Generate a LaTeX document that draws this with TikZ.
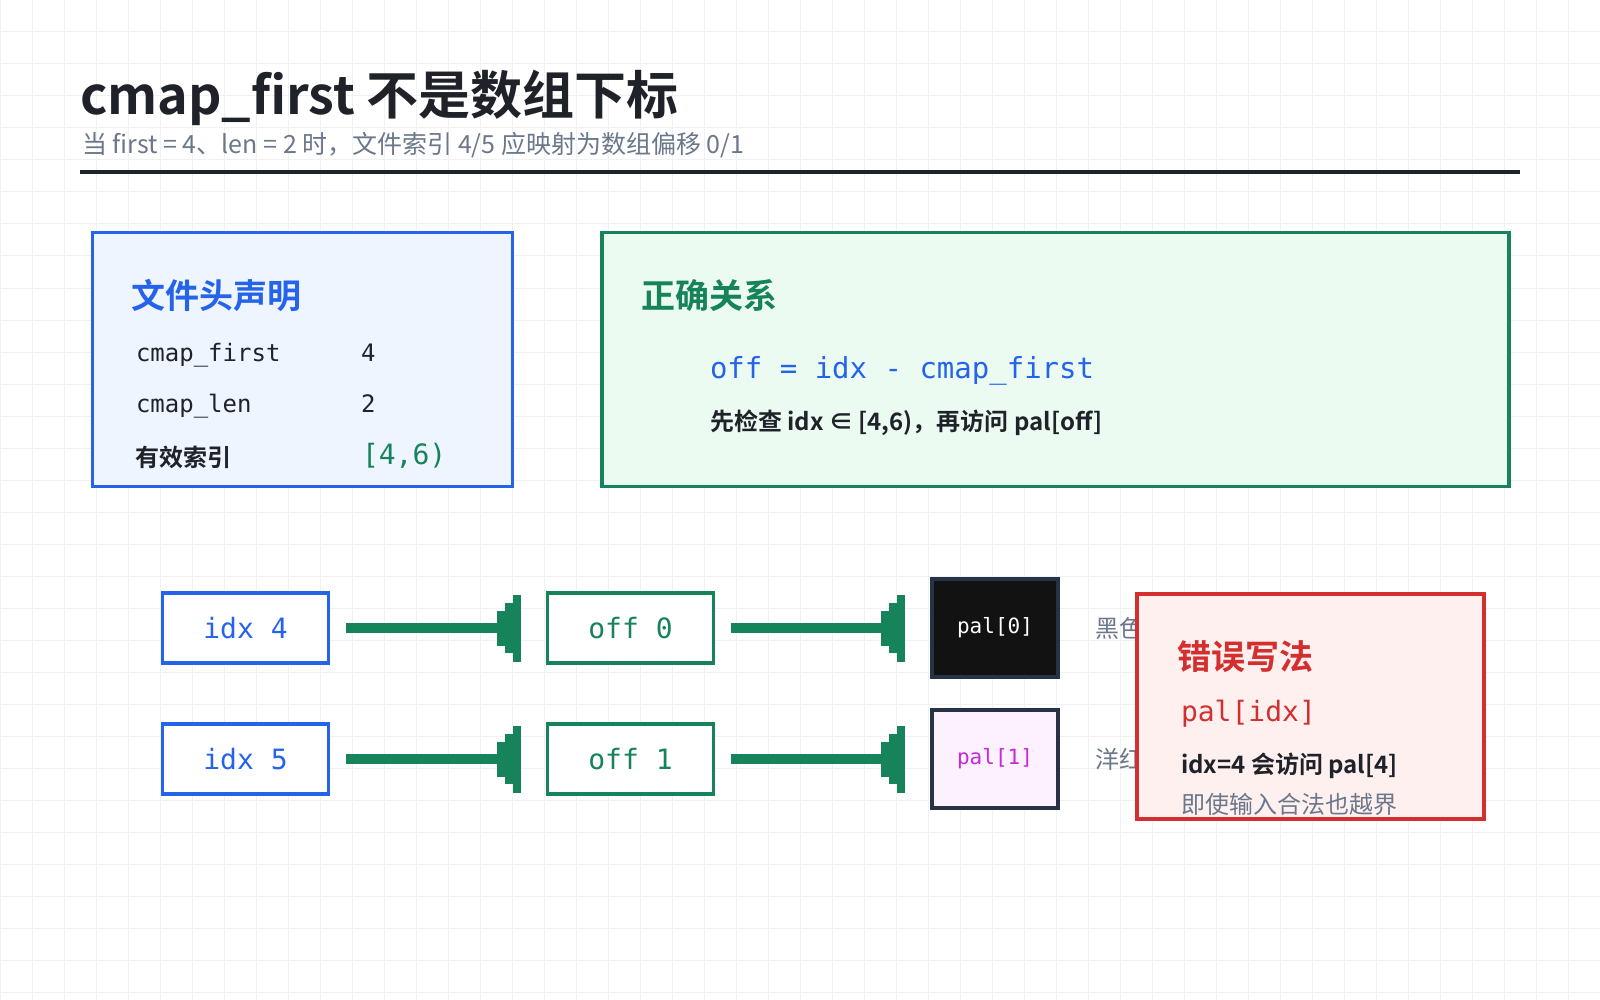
\documentclass[tikz,border=0pt]{standalone}
\usepackage{fontspec}
\setmainfont{Noto Sans CJK SC}[BoldFont={Noto Sans CJK SC Bold}]
\setmonofont{DejaVu Sans Mono}
\usepackage{tikz}
\usetikzlibrary{arrows.meta}

\definecolor{ink}{HTML}{1F2329}
\definecolor{muted}{HTML}{6B778A}
\definecolor{blueline}{HTML}{2563EB}
\definecolor{bluefill}{HTML}{EEF5FF}
\definecolor{greenline}{HTML}{16835A}
\definecolor{greenfill}{HTML}{EBFBF2}
\definecolor{redline}{HTML}{D32F2F}
\definecolor{redfill}{HTML}{FFF0F0}
\definecolor{slate}{HTML}{273244}
\definecolor{palblack}{HTML}{121212}
\definecolor{palpink}{HTML}{FDF1FF}
\definecolor{palmagenta}{HTML}{C42BD6}
\definecolor{gridc}{HTML}{F0F1F3}

\newcommand{\pxfont}[1]{\fontsize{#1pt}{#1pt}\selectfont}

\begin{document}
\begin{tikzpicture}[x=0.5pt,y=-0.5pt,
		grid_line/.style={draw=gridc,line width=0.5pt},
		txt_style/.style={inner sep=0pt,outer sep=0pt,anchor=base west},
		key_style/.style={txt_style,font=\ttfamily\pxfont{12},text=ink},
		panel_style/.style={rectangle,line width=1.6pt,inner sep=0pt,outer sep=0pt},
		idx_style/.style={rectangle,draw=blueline,fill=white,line width=1.6pt,minimum width=83pt,minimum height=35pt,inner sep=0pt,outer sep=0pt,font=\ttfamily\pxfont{14},text=blueline},
		off_style/.style={idx_style,draw=greenline,text=greenline},
		pal_style/.style={rectangle,draw=slate,line width=2pt,minimum width=63pt,minimum height=49pt,inner sep=0pt,outer sep=0pt,font=\ttfamily\pxfont{10.5}},
		note_style/.style={inner sep=0pt,outer sep=0pt,anchor=west,font=\pxfont{12},text=muted},
		edge_style/.style={draw=greenline,line width=5pt,shorten <=8.5pt,shorten >=13.5pt,
			-{Rectangle[length=4pt,width=17.5pt,sep=0pt,line width=0pt]Rectangle[length=4pt,width=25pt,sep=0pt,line width=0pt]Rectangle[length=4pt,width=33.5pt,sep=0pt,line width=0pt]}}]

		\useasboundingbox (0,0) rectangle (1600,1000);
		\fill[white] (0,0) rectangle (1600,1000);
		\foreach \gx in {0,32,...,1600} \draw[grid_line] (\gx,0) -- (\gx,1000);
		\foreach \gy in {0,32,...,992} \draw[grid_line] (0,\gy) -- (1600,\gy);

		% title
		\node[txt_style,font=\bfseries\pxfont{26},text=ink] (title) at (80,115) {cmap\_first 不是数组下标};
		\node[txt_style,font=\pxfont{12.5},text=muted] (subtitle) at (82,154) {当 first = 4、len = 2 时，文件索引 4/5 应映射为数组偏移 0/1};
		\draw[ink,line width=2pt] (80,172) -- (1520,172);

		% header panel
		\node[panel_style,draw=blueline,fill=bluefill,minimum width=210pt,minimum height=127pt] (hdr_box) at (302.5,359.5) {};
		\node[txt_style,font=\bfseries\pxfont{17},text=blueline] (hdr_title) at (131,308) {文件头声明};
		\node[key_style] (first_key) at (136,361) {cmap\_first};
		\node[key_style] (first_val) at (361,361) {4};
		\node[key_style] (len_key) at (136,412) {cmap\_len};
		\node[key_style] (len_val) at (361,412) {2};
		\node[txt_style,font=\bfseries\pxfont{12},text=ink] (range_key) at (135,466) {有效索引};
		\node[txt_style,font=\ttfamily\pxfont{14},text=greenline] (range_val) at (362,464) {[4,6)};

		% relation panel
		\node[panel_style,draw=greenline,fill=greenfill,minimum width=453.5pt,minimum height=127pt] (rel_box) at (1055.5,359.5) {};
		\node[txt_style,font=\bfseries\pxfont{17},text=greenline] (rel_title) at (641,308) {正确关系};
		\node[txt_style,font=\ttfamily\pxfont{14.5},text=blueline] (rel_formula) at (710,378) {off = idx - cmap\_first};
		\node[txt_style,font=\bfseries\pxfont{12},text=ink] (rel_check) at (710,430) {先检查 idx ∈ [4,6)，再访问 pal[off]};

		% mapping rows
		\node[idx_style] (idx4) at (245.5,628) {idx 4};
		\node[off_style] (off0) at (630.5,628) {off 0};
		\node[pal_style,fill=palblack,text=white] (pal0) at (995,628) {pal[0]};
		\node[note_style] (note0) at (1095,628) {黑色};

		\node[idx_style] (idx5) at (245.5,759) {idx 5};
		\node[off_style] (off1) at (630.5,759) {off 1};
		\node[pal_style,fill=palpink,text=palmagenta] (pal1) at (995,759) {pal[1]};
		\node[note_style] (note1) at (1095,759) {洋红};

		\draw[edge_style] (idx4) -- (off0);
		\draw[edge_style] (off0) -- (pal0);
		\draw[edge_style] (idx5) -- (off1);
		\draw[edge_style] (off1) -- (pal1);

		% wrong usage panel
		\node[panel_style,draw=redline,fill=redfill,minimum width=173.5pt,minimum height=112.5pt] (bad_box) at (1310.5,706.5) {};
		\node[txt_style,font=\bfseries\pxfont{17},text=redline] (bad_title) at (1177,669) {错误写法};
		\node[txt_style,font=\ttfamily\pxfont{14},text=redline] (bad_code) at (1181,721) {pal[idx]};
		\node[txt_style,font=\bfseries\pxfont{12},text=ink] (bad_note) at (1181,773) {idx=4 会访问 pal[4]};
		\node[txt_style,font=\pxfont{12},text=muted] (bad_hint) at (1181,813) {即使输入合法也越界};

\end{tikzpicture}
\end{document}
